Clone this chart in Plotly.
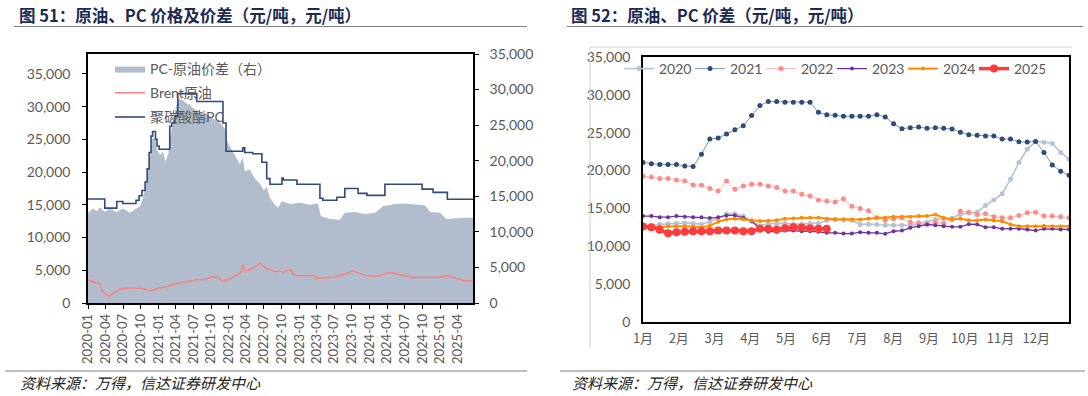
import plotly.graph_objects as go

# ---------------- 图51 data ----------------
spread_dates = ["2020-01-01","2020-01-26","2020-02-16","2020-03-02","2020-03-28","2020-04-23","2020-05-29","2020-06-30",
                "2020-08-06","2020-09-01","2020-09-27","2020-10-12","2020-10-28","2020-11-13","2020-11-28","2020-12-14",
                "2020-12-24","2021-01-09","2021-01-25","2021-02-05","2021-02-20","2021-02-28","2021-03-16","2021-04-01",
                "2021-04-16","2021-05-17","2021-06-12","2021-07-08","2021-08-04","2021-08-29","2021-09-25","2021-10-20",
                "2021-11-16","2021-12-12","2021-12-27","2022-01-17","2022-02-07","2022-02-27","2022-03-14","2022-03-24",
                "2022-04-19","2022-05-15","2022-06-10","2022-07-01","2022-07-16","2022-08-02","2022-08-22","2022-09-13",
                "2022-10-03","2022-11-14","2023-01-05","2023-02-26","2023-04-07","2023-04-23","2023-06-09","2023-07-30",
                "2023-08-25","2023-10-16","2023-12-08","2024-01-29","2024-03-10","2024-05-11","2024-07-02","2024-08-23",
                "2024-10-15","2024-11-10","2025-01-01","2025-02-02","2025-03-18","2025-05-09","2025-06-20"]
spread_vals = [12650,13300,12900,13500,12800,13200,12800,13300,
               12700,13100,13600,14800,16500,19500,23000,23200,
               21500,20800,21300,19800,21000,23000,25500,27500,
               28800,28300,27800,27200,26800,26700,26200,25800,
               25300,24500,22500,21500,20500,19500,20500,18500,
               18800,17500,16800,15800,16300,14800,14000,13400,
               14300,13900,14100,13800,14000,12200,11800,11700,
               12700,12800,12500,12700,13600,13900,14000,13800,
               13700,12800,12700,11800,11900,12000,12000]

brent_dates = ["2020-01-01","2020-02-06","2020-03-02","2020-03-17","2020-04-03","2020-04-23","2020-05-09","2020-05-29",
               "2020-06-14","2020-08-06","2020-09-27","2020-11-03","2020-11-28","2021-01-09","2021-02-15","2021-03-26",
               "2021-04-21","2021-06-12","2021-07-18","2021-08-29","2021-10-10","2021-11-06","2021-12-01","2022-01-07",
               "2022-02-13","2022-03-04","2022-03-14","2022-03-24","2022-04-09","2022-05-05","2022-05-31","2022-06-10",
               "2022-06-26","2022-07-11","2022-08-02","2022-08-27","2022-09-23","2022-10-08","2022-11-14","2022-11-29",
               "2022-12-20","2023-02-01","2023-03-12","2023-04-07","2023-04-28","2023-06-24","2023-08-25","2023-10-06",
               "2023-11-02","2023-12-18","2024-01-29","2024-03-05","2024-04-16","2024-05-27","2024-07-13","2024-08-13",
               "2024-10-15","2025-01-01","2025-02-07","2025-03-18","2025-04-14","2025-05-09","2025-06-20"]
brent_vals = [3540,3100,2900,1800,1300,970,1500,1800,
              2150,2300,2300,1950,1900,2300,2500,2900,
              3030,3300,3540,3600,4050,3900,3280,3700,
              4300,4700,5850,4900,5000,5300,5800,6100,
              5700,5300,5070,4800,4900,4700,5070,4500,
              4150,4200,4150,3800,3800,3950,4400,4970,
              4600,4150,4100,4300,4660,4400,4150,3900,
              3950,3950,4150,3800,3540,3350,3400]

pc_dates = ["2020-01-01","2020-03-28","2020-05-29","2020-06-30","2020-09-06","2020-09-22","2020-10-07","2020-10-23",
            "2020-11-03","2020-11-13","2020-11-23","2020-12-01","2020-12-16","2020-12-24","2021-01-04","2021-02-28",
            "2021-03-10","2021-03-26","2021-04-11","2021-07-18","2021-12-01","2021-12-17","2022-03-14","2022-03-24",
            "2022-05-05","2022-06-21","2022-07-16","2022-08-02","2022-10-03","2022-10-10","2022-12-20","2023-04-18",
            "2023-05-03","2023-07-15","2023-08-25","2023-11-02","2023-12-18","2024-03-20","2024-09-29","2024-11-25",
            "2025-02-07","2025-06-20"]
pc_vals = [15900,14500,15500,15200,15700,16400,17200,18500,
           20500,23000,25500,26200,25000,24000,23500,27000,
           27500,28500,32000,30800,27500,23200,23700,23000,
           22800,21500,19000,18150,19100,18800,18150,16000,
           15700,16150,17500,16750,16450,18150,17400,16900,
           15850,15850]

quarter_ticks = ["2020-01","2020-04","2020-07","2020-10","2021-01","2021-04","2021-07","2021-10",
                 "2022-01","2022-04","2022-07","2022-10","2023-01","2023-04","2023-07","2023-10",
                 "2024-01","2024-04","2024-07","2024-10","2025-01","2025-04"]

# ---------------- 图52 data ----------------
weeks = list(range(52))
y2020 = [12600,12700,12900,12950,13000,13050,13000,12900,13200,13700,
         14250,14270,13960,13290,12700,12950,13000,13000,12900,12900,
         13000,13000,13400,13500,13450,13400,12850,12900,12850,12760,
         12760,12760,12760,12900,13160,13510,13600,13690,14180,14400,
         14470,15380,16090,16930,18830,21050,22820,23790,23740,23570,
         22380,21490]
y2021 = [21050,20870,20780,20780,20780,20600,20520,22150,24150,24280,
         24810,25380,25910,27250,28580,29110,29110,29020,29020,29020,
         29020,27700,27350,27300,27170,27170,27170,27170,27380,27070,
         26180,25520,25650,25740,25570,25650,25570,25480,25040,24720,
         24640,24550,24550,24150,24150,23790,23750,23840,22380,20730,
         19900,19360]
y2022 = [19270,19140,18920,18920,18740,18610,18080,18040,17600,17280,
         18610,17500,17940,18170,18170,17940,17730,17280,17280,16840,
         16610,16080,15950,15820,16260,15250,14980,14680,13740,13420,
         13600,13740,13160,13070,12900,13160,13000,13510,14620,14470,
         14180,14270,13870,13740,13740,14050,14400,14470,13960,13960,
         13870,13740]
y2023 = [13960,13960,13820,13820,13960,13880,13800,13800,13700,13800,
         14050,14050,13740,13300,12300,11900,11900,12050,12050,11960,
         11960,11880,11750,11750,11650,11660,11830,11750,11750,11620,
         11960,12050,12410,12630,12850,12760,12630,12540,12540,12900,
         12850,12500,12500,12280,12300,12300,12190,12050,12280,12280,
         12190,12190]
y2024 = [12500,12550,12600,12630,12630,12630,12600,12450,12700,13200,
         13550,13600,13550,13400,13300,13350,13420,13600,13650,13740,
         13740,13740,13600,13550,13550,13510,13510,13600,13740,13740,
         13870,13870,13870,13960,13960,14180,13740,13510,13600,13420,
         13380,13510,13380,13290,12850,12630,12630,12630,12700,12630,
         12630,12630]
y2025 = [12600,12500,12150,11700,11830,11880,11950,11950,11950,12050,
         12050,12050,11950,11950,12300,12300,12200,12350,12500,12450,
         12350,12300,12300]
month_labels = ["1月","2月","3月","4月","5月","6月","7月","8月","9月","10月","11月","12月"]

W, H = 1088, 396
def px(x): return x / W
def py(y): return 1 - y / H

NUMF = "Lato, 'Noto Sans CJK SC', sans-serif"
CJKF = "'Noto Sans CJK SC', sans-serif"
GREY = "#595959"

fig = go.Figure()

# ---- left chart ----
fig.add_trace(go.Scatter(x=spread_dates, y=spread_vals, name="PC-原油价差（右）", mode="lines",
                         fill="tozeroy", fillcolor="#b1bccd", line=dict(width=0, color="#b1bccd"),
                         xaxis="x", yaxis="y", legend="legend", legendgroup="a"))
fig.add_trace(go.Scatter(x=brent_dates, y=brent_vals, name="Brent原油", mode="lines",
                         line=dict(color="#ff7f7f", width=1.5),
                         xaxis="x", yaxis="y2", legend="legend", legendgroup="b"))
fig.add_trace(go.Scatter(x=pc_dates, y=pc_vals, name="聚碳酸酯PC", mode="lines",
                         line=dict(color="#2f4b7c", width=1.6, shape="hv"),
                         xaxis="x", yaxis="y2", legend="legend", legendgroup="c"))

# ---- right chart ----
series = [
    ("2020", y2020, "#b6c2d6", "#b6c2d6", 1.6, 5),
    ("2021", y2021, "#7f93b5", "#2f4b7c", 1.0, 5),
    ("2022", y2022, "#ffb3b3", "#ff8a8a", 1.0, 5),
    ("2023", y2023, "#7030a0", "#7030a0", 1.3, 4),
    ("2024", y2024, "#ff8c00", "#ff8c00", 2.0, 4),
    ("2025", y2025, "#ff3b3b", "#ff3b3b", 3.5, 8),
]
for name, vals, lc, mc, lw, ms in series:
    fig.add_trace(go.Scatter(x=weeks[:len(vals)], y=vals, name=name, mode="lines+markers",
                             line=dict(color=lc, width=lw), marker=dict(color=mc, size=ms),
                             xaxis="x2", yaxis="y3", legend="legend2"))

axis_common = dict(showgrid=False, zeroline=False, showline=True, linecolor="black", linewidth=1.5)

fig.update_layout(
    width=W, height=H, margin=dict(l=0, r=0, t=0, b=0, autoexpand=False),
    paper_bgcolor="white", plot_bgcolor="rgba(0,0,0,0)",
    showlegend=True,
    xaxis=dict(domain=[px(88), px(473)], anchor="y", type="date",
               range=["2020-01-01", "2025-06-20"],
               tickvals=[t + "-01" for t in quarter_ticks], ticktext=quarter_ticks,
               tickangle=-90, ticks="outside", ticklen=4, tickcolor="black", mirror=True,
               tickfont=dict(family=NUMF, size=13, color=GREY), **axis_common),
    yaxis=dict(domain=[py(303), py(54)], anchor="x", side="right", range=[0, 35000], dtick=5000,
               tickformat=",", ticks="outside", ticklen=4, tickcolor="black", ticklabelstandoff=8,
               tickfont=dict(family=NUMF, size=14, color=GREY), **axis_common),
    yaxis2=dict(overlaying="y", anchor="x", side="left", range=[0, 38050], dtick=5000,
                tickformat=",", ticks="outside", ticklen=4, tickcolor="black", ticklabelstandoff=9,
                tickfont=dict(family=NUMF, size=14, color=GREY), **axis_common),
    xaxis2=dict(domain=[px(643), px(1069)], anchor="y3", range=[0, 51],
                tickvals=[i * 4.28 for i in range(12)], ticktext=month_labels, ticks="",
                ticklabelstandoff=4,
                mirror=True, tickfont=dict(family=CJKF, size=13, color=GREY), **axis_common),
    yaxis3=dict(domain=[py(321.7), py(57)], anchor="x2", range=[0, 35000], dtick=5000,
                tickformat=",", ticks="", mirror=True, ticklabelstandoff=8,
                tickfont=dict(family=NUMF, size=14, color=GREY), **axis_common),
    legend=dict(x=px(110), y=py(53), xanchor="left", yanchor="top", bgcolor="rgba(0,0,0,0)",
                font=dict(family=NUMF, size=14, color=GREY), tracegroupgap=3, itemwidth=30),
    legend2=dict(orientation="h", x=px(619), y=py(53), xanchor="left", yanchor="top",
                 bgcolor="rgba(0,0,0,0)", entrywidth=26, entrywidthmode="pixels",
                 font=dict(family=NUMF, size=14, color=GREY), itemwidth=30),
)

title_font = dict(family=CJKF, size=16.5, color="#1b2a55")
foot_font = dict(family=CJKF, size=15, color="#222222", style="italic")
fig.add_annotation(x=px(17), y=py(15), xref="paper", yref="paper", xanchor="left", yanchor="middle",
                   text="<b>图 51：原油、PC 价格及价差（元/吨，元/吨）</b>", showarrow=False, font=title_font)
fig.add_annotation(x=px(569), y=py(15), xref="paper", yref="paper", xanchor="left", yanchor="middle",
                   text="<b>图 52：原油、PC 价差（元/吨，元/吨）</b>", showarrow=False, font=title_font)
fig.add_annotation(x=px(18), y=py(382), xref="paper", yref="paper", xanchor="left", yanchor="middle",
                   text="资料来源：万得，信达证券研发中心", showarrow=False, font=foot_font)
fig.add_annotation(x=px(570), y=py(382), xref="paper", yref="paper", xanchor="left", yanchor="middle",
                   text="资料来源：万得，信达证券研发中心", showarrow=False, font=foot_font)

line_style = dict(color="#7f7f7f", width=1)
for x0, x1, y in [(14, 527, 26.5), (567, 1083, 26.5), (5, 527, 371), (560, 1085, 371)]:
    fig.add_shape(type="line", xref="paper", yref="paper", x0=px(x0), x1=px(x1), y0=py(y), y1=py(y), line=line_style)
border = dict(color="#d0d0d0", width=1)
fig.add_shape(type="line", xref="paper", yref="paper", x0=px(590), x1=px(1072), y0=py(47), y1=py(47), line=border)
fig.add_shape(type="line", xref="paper", yref="paper", x0=px(590), x1=px(590), y0=py(47), y1=py(348), line=border)

fig.write_html("out.html", config={"displayModeBar": False},
               post_script="document.body.style.margin='0';document.body.style.overflow='hidden';")
